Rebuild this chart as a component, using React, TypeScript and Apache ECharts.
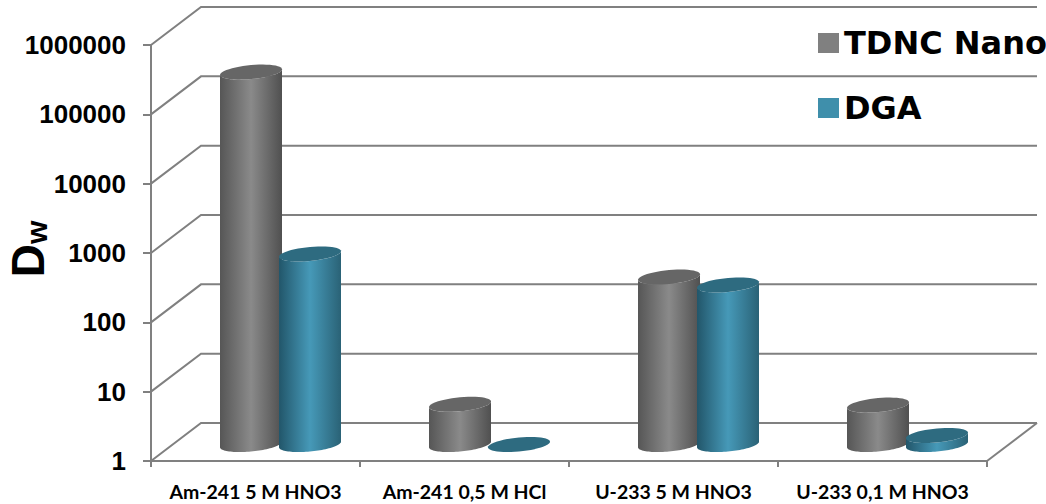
import React, { useEffect, useRef } from "react";
import * as echarts from "echarts";

const categories = ["Am-241 5 M HNO3", "Am-241 0,5 M HCl", "U-233 5 M HNO3", "U-233 0,1 M HNO3"];
const tdncNano = [235000, 3.8, 260, 3.7];
const dga = [560, 1, 200, 1.35];
const yTicks = [1, 10, 100, 1000, 10000, 100000, 1000000];

const AXIS_COLOR = "#808080";
const DEPTH_X = 50;
const DEPTH_Y = 38;
const BASE_LIFT = 16.5;
const RADIUS_X = 31;
const RADIUS_Y = 7;
const SKEW = 2.8;

type Palette = { edgeL: string; mid: string; edgeR: string; top: string };
const grayPalette: Palette = { edgeL: "#565656", mid: "#8a8a8a", edgeR: "#505050", top: "#666666" };
const tealPalette: Palette = { edgeL: "#22566a", mid: "#4699b8", edgeR: "#2a6276", top: "#2e6b80" };

// Outline points of the tilted ellipse used for a cylinder cap; the right side sits higher.
function ellipsePoint(cx: number, cy: number, t: number): [number, number] {
  return [cx + RADIUS_X * Math.cos(t), cy + RADIUS_Y * Math.sin(t) - SKEW * Math.cos(t)];
}

function ellipseArc(cx: number, cy: number, from: number, to: number): [number, number][] {
  const points: [number, number][] = [];
  const steps = 48;
  for (let i = 0; i <= steps; i++) {
    points.push(ellipsePoint(cx, cy, from + ((to - from) * i) / steps));
  }
  return points;
}

function cylinderRenderer(palette: Palette, shift: number) {
  return (_params: any, api: any) => {
    const point = api.coord([api.value(0), api.value(1)]);
    const floor = api.coord([api.value(0), 1]);
    const cx = point[0] + shift;
    const topY = point[1] - BASE_LIFT;
    const baseY = floor[1] - BASE_LIFT;
    const fill = {
      type: "linear",
      x: 0,
      y: 0,
      x2: 1,
      y2: 0,
      colorStops: [
        { offset: 0, color: palette.edgeL },
        { offset: 0.5, color: palette.mid },
        { offset: 1, color: palette.edgeR },
      ],
    };
    const children: any[] = [];
    if (topY < baseY) {
      const lower = ellipseArc(cx, baseY, 0, Math.PI);
      const upper = ellipseArc(cx, topY, Math.PI, 0);
      children.push({
        type: "polygon",
        shape: { points: [...lower, ...upper] },
        style: { fill },
      });
    }
    children.push({
      type: "polygon",
      shape: { points: ellipseArc(cx, topY, 0, Math.PI * 2) },
      style: { fill: palette.top },
    });
    return { type: "group", children };
  };
}

// Back wall and side wall rules for every decade, plus the right edge of the floor.
function wallRenderer(params: any, api: any) {
  const rect = params.coordSys;
  const y = api.coord([0, api.value(0)])[1];
  const left = rect.x;
  const right = rect.x + rect.width;
  const style = { fill: "none", stroke: AXIS_COLOR, lineWidth: 2 };
  const children: any[] = [
    {
      type: "polyline",
      shape: {
        points: [
          [left, y],
          [left + DEPTH_X, y - DEPTH_Y],
          [right + DEPTH_X, y - DEPTH_Y],
        ],
      },
      style,
    },
  ];
  if (api.value(0) === 1) {
    children.push({
      type: "line",
      shape: { x1: right, y1: y, x2: right + DEPTH_X, y2: y - DEPTH_Y },
      style,
    });
  }
  return { type: "group", children };
}

export default function App() {
  const ref = useRef<HTMLDivElement>(null);

  useEffect(() => {
    const chart = echarts.init(ref.current!, undefined, { renderer: "svg" });
    chart.setOption({
      animation: false,
      backgroundColor: "#ffffff",
      grid: { left: 151, right: 59, top: 45, bottom: 43, containLabel: false, outerBoundsMode: "none" },
      legend: {
        data: ["TDNC Nano", "DGA"],
        orient: "vertical",
        left: 813,
        top: 22,
        itemWidth: 21,
        itemHeight: 20,
        itemGap: 33,
        icon: "rect",
        selectedMode: false,
        textStyle: {
          fontFamily: "DejaVu Sans",
          fontWeight: "bold",
          fontSize: 32,
          color: "#000000",
        },
      },
      xAxis: {
        type: "category",
        data: categories,
        boundaryGap: true,
        axisLine: { show: true, lineStyle: { color: AXIS_COLOR, width: 2 } },
        axisTick: { show: true, length: 6, lineStyle: { color: AXIS_COLOR, width: 2 } },
        axisLabel: {
          interval: 0,
          margin: 20,
          fontFamily: "Lato",
          fontWeight: "bold",
          fontSize: 19.5,
          color: "#000000",
        },
      },
      yAxis: {
        type: "log",
        logBase: 10,
        min: 1,
        max: 1000000,
        name: "{d|D}{w|w}",
        nameLocation: "middle",
        nameRotate: 90,
        nameGap: 100,
        nameMoveOverlap: false,
        nameTextStyle: {
          padding: [0, 0, 0, 8],
          rich: {
            d: { fontFamily: "Liberation Sans", fontWeight: "bold", fontSize: 46, color: "#000000" },
            w: {
              fontFamily: "Liberation Sans",
              fontWeight: "bold",
              fontSize: 30,
              color: "#000000",
              verticalAlign: "bottom",
            },
          },
        },
        axisLine: { show: true, lineStyle: { color: AXIS_COLOR, width: 2 } },
        axisTick: { show: true, length: 8, lineStyle: { color: AXIS_COLOR, width: 2 } },
        splitLine: { show: false },
        minorTick: { show: false },
        axisLabel: {
          margin: 25,
          padding: [3, 0, 0, 0],
          formatter: (v: number) => String(Math.round(v)),
          fontFamily: "Liberation Sans",
          fontWeight: "bold",
          fontSize: 26,
          color: "#000000",
        },
      },
      series: [
        {
          type: "custom",
          name: "walls",
          silent: true,
          z: 1,
          coordinateSystem: "cartesian2d",
          renderItem: wallRenderer,
          encode: { y: 0 },
          data: yTicks.map((v) => [v]),
        },
        {
          type: "custom",
          name: "TDNC Nano",
          silent: true,
          z: 2,
          itemStyle: { color: "#808080" },
          renderItem: cylinderRenderer(grayPalette, -4.5),
          encode: { x: 0, y: 1 },
          data: tdncNano.map((v, i) => [i, v]),
        },
        {
          type: "custom",
          name: "DGA",
          silent: true,
          z: 3,
          itemStyle: { color: "#3f8fab" },
          renderItem: cylinderRenderer(tealPalette, 54.5),
          encode: { x: 0, y: 1 },
          data: dga.map((v, i) => [i, v]),
        },
      ],
    });
    return () => chart.dispose();
  }, []);

  return (
    <div
      ref={ref}
      style={{ position: "absolute", left: 0, top: 0, width: 1046, height: 504 }}
    />
  );
}
